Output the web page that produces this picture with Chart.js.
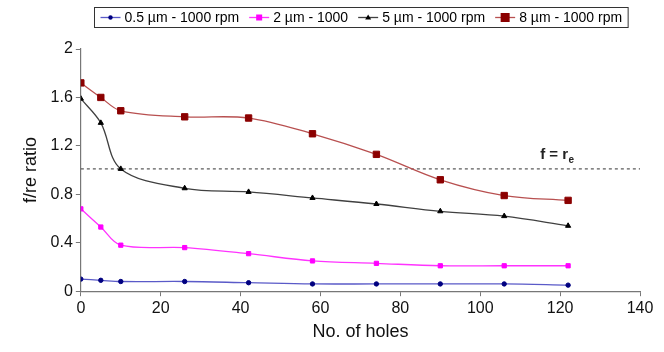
<!DOCTYPE html>
<html>
<head>
<meta charset="utf-8">
<script src="https://cdn.jsdelivr.net/npm/chart.js@4.4.1/dist/chart.umd.min.js"></script>
<style>
    html, body { margin: 0; padding: 0; background: #fff; }
    #wrap { width: 664px; height: 352px; }
</style>
</head>
<body>
<div id="wrap"><canvas id="grafico"></canvas></div>
<script>
// values
const holes = [0, 5, 10, 26, 42, 58, 74, 90, 106, 122];
const ratio05 = [0.10, 0.09, 0.08, 0.08, 0.07, 0.06, 0.06, 0.06, 0.06, 0.05];
const ratio2 = [0.68, 0.53, 0.38, 0.36, 0.31, 0.25, 0.23, 0.21, 0.21, 0.21];
const ratio5 = [1.59, 1.39, 1.01, 0.85, 0.82, 0.77, 0.72, 0.66, 0.62, 0.54];
const ratio8 = [1.72, 1.60, 1.49, 1.44, 1.43, 1.30, 1.13, 0.92, 0.79, 0.75];
const seriesLabels = ['0.5 \u00b5m - 1000 rpm', '2 \u00b5m - 1000', '5 \u00b5m - 1000 rpm', '8 \u00b5m - 1000 rpm'];
const refX = [0, 140];
const refY = [1.01, 1.01];
const xTicks = [0, 20, 40, 60, 80, 100, 120, 140];
const yTicks = [0, 0.4, 0.8, 1.2, 1.6, 2];

const FONT = '"Liberation Sans", Arial, sans-serif';
const pts = ys => holes.map((x, i) => ({ x: x, y: ys[i] }));

function serie(label, ys, lineColor, markColor, style, radius) {
    return {
        label: label,
        data: pts(ys),
        borderColor: lineColor,
        borderWidth: 1.3,
        backgroundColor: markColor,
        pointBorderColor: markColor,
        pointBackgroundColor: markColor,
        pointStyle: style,
        pointRadius: radius,
        pointBorderWidth: 1,
        tension: 0.35,
        fill: false
    };
}

const datasets = [
    serie(seriesLabels[0], ratio05, '#5a5ac8', '#000080', 'circle', 2.2),
    serie(seriesLabels[1], ratio2, '#ff33ff', '#ff00ff', 'rect', 3),
    serie(seriesLabels[2], ratio5, '#404040', '#000000', 'triangle', 3),
    serie(seriesLabels[3], ratio8, '#b85050', '#8b0000', 'rect', 4.5),
    {
        label: 'ref',
        data: refX.map((x, i) => ({ x: x, y: refY[i] })),
        borderColor: '#555',
        borderWidth: 1.2,
        borderDash: [3, 3],
        pointRadius: 0,
        tension: 0,
        fill: false
    }
];

// legend box + "f = re" text
const extras = {
    id: 'extras',
    afterDraw(chart) {
        const ctx = chart.ctx;
        const xs = chart.scales.x, ys = chart.scales.y;

        ctx.save();
        ctx.fillStyle = '#222';
        ctx.font = 'bold 15px ' + FONT;
        ctx.textBaseline = 'alphabetic';
        const lx = xs.getPixelForValue(115), ly = ys.getPixelForValue(1.09);
        ctx.fillText('f = r', lx, ly);
        const w = ctx.measureText('f = r').width;
        ctx.font = 'bold 10px ' + FONT;
        ctx.fillText('e', lx + w + 0.5, ly + 4);

        // legend
        const items = chart.data.datasets.slice(0, 4);
        ctx.font = '14px ' + FONT;
        const seg = 20, gap = 4, between = 10;
        let total = 0;
        items.forEach(d => { total += seg + gap + ctx.measureText(d.label).width; });
        total += between * (items.length - 1);
        const boxW = total + 12, boxH = 20;
        const cx = (chart.chartArea.left + chart.chartArea.right) / 2;
        const bx = Math.round(cx - boxW / 2) + 0.5, by = 7.5;
        ctx.strokeStyle = '#333';
        ctx.lineWidth = 1;
        ctx.strokeRect(bx, by, boxW, boxH);
        let x = bx + 6;
        const yc = by + boxH / 2;
        items.forEach(d => {
            ctx.strokeStyle = d.borderColor;
            ctx.lineWidth = 1.3;
            ctx.beginPath();
            ctx.moveTo(x, yc);
            ctx.lineTo(x + seg, yc);
            ctx.stroke();
            ctx.fillStyle = d.pointBackgroundColor;
            ctx.beginPath();
            const r = d.pointRadius, mx = x + seg / 2;
            if (d.pointStyle === 'rect') {
                ctx.fillRect(mx - r, yc - r, 2 * r, 2 * r);
            } else if (d.pointStyle === 'triangle') {
                ctx.moveTo(mx, yc - r);
                ctx.lineTo(mx + r, yc + r * 0.7);
                ctx.lineTo(mx - r, yc + r * 0.7);
                ctx.closePath();
                ctx.fill();
            } else {
                ctx.arc(mx, yc, r, 0, Math.PI * 2);
                ctx.fill();
            }
            x += seg + gap;
            ctx.fillStyle = '#000';
            ctx.textBaseline = 'middle';
            ctx.fillText(d.label, x, yc + 0.5);
            x += ctx.measureText(d.label).width + between;
        });
        ctx.restore();
    }
};

new Chart(document.getElementById('grafico').getContext('2d'), {
    type: 'line',
    data: { datasets: datasets },
    options: {
        responsive: true,
        maintainAspectRatio: false,
        animation: false,
        layout: { padding: { top: 49, right: 24, left: 16, bottom: 5 } },
        plugins: {
            legend: { display: false },
            tooltip: { enabled: false }
        },
        scales: {
            x: {
                type: 'linear',
                min: 0,
                max: 140,
                afterBuildTicks: axis => { axis.ticks = xTicks.map(v => ({ value: v })); },
                grid: { drawOnChartArea: false, drawTicks: true, tickLength: 5, color: '#777' },
                border: { color: '#777', width: 1.2 },
                ticks: { color: '#111', font: { size: 16, family: FONT }, padding: 3, maxRotation: 0, callback: v => String(v) },
                title: { display: true, text: 'No. of holes', color: '#111', font: { size: 18, family: FONT }, padding: { top: 0 } }
            },
            y: {
                type: 'linear',
                min: 0,
                max: 2,
                afterBuildTicks: axis => { axis.ticks = yTicks.map(v => ({ value: v })); },
                grid: { drawOnChartArea: false, drawTicks: true, tickLength: 5, color: '#777' },
                border: { color: '#777', width: 1.2 },
                ticks: { color: '#111', font: { size: 16, family: FONT }, padding: 3, callback: v => String(v) },
                title: { display: true, text: 'f/re ratio', color: '#111', font: { size: 18, family: FONT }, padding: { bottom: 6 } }
            }
        }
    },
    plugins: [extras]
});
</script>
</body>
</html>
